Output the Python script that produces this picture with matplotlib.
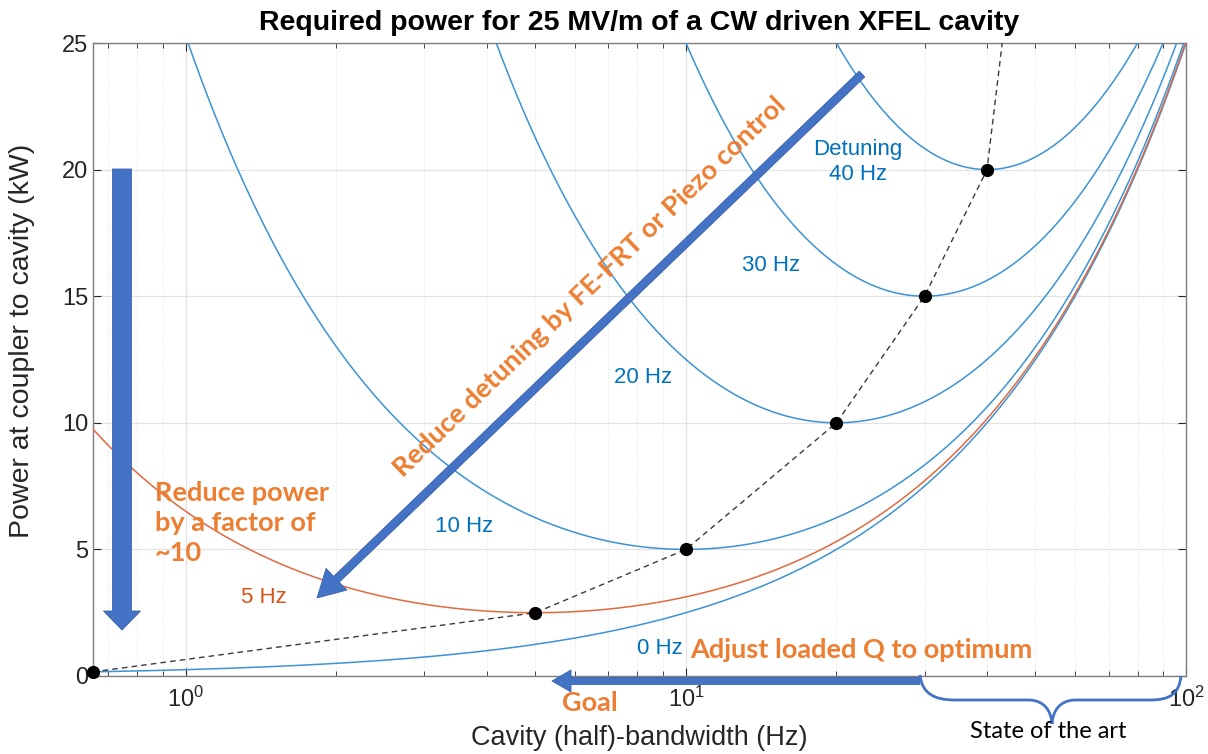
import numpy as np
import matplotlib.pyplot as plt
from matplotlib.patches import FancyArrowPatch, PathPatch, ArrowStyle
from matplotlib.path import Path
from matplotlib.ticker import LogLocator, NullFormatter, FixedLocator

plt.rcParams['font.family'] = ['Liberation Sans', 'DejaVu Sans']

# cavity detuning of each curve (Hz), and the power per Hz of half-bandwidth
detuning = [0, 5, 10, 20, 30, 40]
curve_colors = ['#3b93d6', '#e2693f', '#3b93d6', '#3b93d6', '#3b93d6', '#3b93d6']
power_per_hz = 0.25            # kW/Hz -> 25 kW at 100 Hz, no detuning
bw_lo, bw_hi = 0.652, 100.0    # bandwidth range (Hz)

# where the dashed optimum line leaves the top of the plot
ridge_end = (42.9, 25.0)

# curve labels: text, x (Hz), y (kW), colour
curve_labels = [
    ('Detuning\n40 Hz', 22.1, 20.3, '#0072BD'),
    ('30 Hz', 14.8, 16.2, '#0072BD'),
    ('20 Hz', 8.2, 11.8, '#0072BD'),
    ('10 Hz', 3.6, 5.9, '#0072BD'),
    ('0 Hz', 8.85, 1.1, '#0072BD'),
    ('5 Hz', 1.43, 3.1, '#D95319'),
]

W, H = 1208, 754
fig = plt.figure(figsize=(W / 100, H / 100), dpi=100)
ax = fig.add_axes([93 / W, 1 - 676 / H, 1093 / W, 633 / H])

bw = np.logspace(np.log10(bw_lo), np.log10(bw_hi), 600)


def coupler_power(f_half, df):
    return power_per_hz * (f_half ** 2 + df ** 2) / f_half


for df, col in zip(detuning, curve_colors):
    ax.plot(bw, coupler_power(bw, df), color=col, lw=1.1, zorder=3)

# optimum loaded Q: minimum of each curve
opt_x = [max(df, bw_lo) for df in detuning]
opt_y = [coupler_power(x, df) for x, df in zip(opt_x, detuning)]
ax.plot(opt_x + [ridge_end[0]], opt_y + [ridge_end[1]], color='#3a3a3a',
        lw=1.0, ls=(0, (4, 3)), zorder=4)
ax.plot(opt_x, opt_y, 'o', color='black', ms=8.5, zorder=5, clip_on=False)

for txt, x, y, col in curve_labels:
    ax.text(x, y, txt, color=col, fontsize=16, ha='center', va='center',
            linespacing=1.25, zorder=6)

ax.set_xscale('log')
ax.set_xlim(bw_lo, bw_hi)
ax.set_ylim(0, 25)
ax.set_yticks([0, 5, 10, 15, 20, 25])
ax.xaxis.set_major_locator(FixedLocator([1, 10, 100]))
ax.xaxis.set_minor_locator(LogLocator(base=10, subs=np.arange(2, 10)))
ax.xaxis.set_minor_formatter(NullFormatter())
ax.tick_params(which='both', direction='in', top=True, right=True,
               colors='#262626', labelsize=17)
ax.tick_params(which='major', length=6, width=0.8)
ax.tick_params(which='minor', length=3.5, width=0.6)
ax.tick_params(axis='x', pad=8)
for s in ax.spines.values():
    s.set_color('#7f7f7f')
    s.set_linewidth(1.0)
ax.grid(True, which='major', color='#e3e3e3', lw=0.9)
ax.grid(True, which='minor', axis='x', color='#e3e3e3', lw=0.8, ls=':')
ax.set_axisbelow(True)

ax.set_title('Required power for 25 MV/m of a CW driven XFEL cavity',
             fontsize=20.5, fontweight='bold', pad=9)
ax.set_xlabel('Cavity (half)-bandwidth (Hz)', fontsize=19.5, color='#262626',
              labelpad=9)
ax.set_ylabel('Power at coupler to cavity (kW)', fontsize=20.5,
              color='#262626')
ax.yaxis.set_label_coords(-0.053, 0.53)

# overlay in pixel units for the hand-drawn arrows, brace and notes
ov = fig.add_axes([0, 0, 1, 1], facecolor='none', zorder=10)
ov.set_xlim(0, W)
ov.set_ylim(H, 0)
ov.axis('off')

arrow_blue = '#4472C4'
orange = '#ED7D31'
px = 72 / 100  # pixels -> points


def big_arrow(p0, p1, tail, head_w, head_l):
    style = ArrowStyle.Simple(head_length=head_l * px, head_width=head_w * px,
                              tail_width=tail * px)
    ov.add_patch(FancyArrowPatch(p0, p1, arrowstyle=style, mutation_scale=1,
                                 shrinkA=0, shrinkB=0, color=arrow_blue,
                                 ec='#3a62ad', lw=0.6))


big_arrow((122, 169), (122, 630), 19, 37, 19)
big_arrow((862, 74), (317, 598), 8, 30, 27)
big_arrow((920, 681), (552, 681), 7, 22, 19)

brace = Path(
    [(920, 675), (922, 694), (935, 700), (955, 700),
     (1030, 700), (1044, 701), (1051, 710), (1052, 724),
     (1053, 710), (1060, 701), (1074, 700),
     (1150, 700), (1170, 700), (1179, 694), (1181, 676)],
    [Path.MOVETO, Path.CURVE4, Path.CURVE4, Path.CURVE4,
     Path.LINETO, Path.CURVE4, Path.CURVE4, Path.CURVE4,
     Path.CURVE4, Path.CURVE4, Path.CURVE4,
     Path.LINETO, Path.CURVE4, Path.CURVE4, Path.CURVE4])
ov.add_patch(PathPatch(brace, fc='none', ec=arrow_blue, lw=2.0))

note_font = ['Lato', 'DejaVu Sans']
ov.text(155, 523, 'Reduce power\nby a factor of\n~10', color=orange,
        fontsize=19.5, fontweight='bold', family=note_font, ha='left',
        va='center', linespacing=1.3)
ov.text(590, 703, 'Goal', color=orange, fontsize=19.5, fontweight='bold',
        family=note_font, ha='center', va='center')
ov.text(690, 650, 'Adjust loaded Q to optimum', color=orange, fontsize=19.5,
        fontweight='bold', family=note_font, ha='left', va='center')
ov.text(590, 287, 'Reduce detuning by FE-FRT or Piezo control', color=orange,
        fontsize=19.5, fontweight='bold', family=note_font, ha='center',
        va='center', rotation=44, rotation_mode='anchor')
ov.text(1048, 732, 'State of the art', color='black', fontsize=17,
        family=note_font, ha='center', va='center')

fig.savefig('out.png', dpi=100)
